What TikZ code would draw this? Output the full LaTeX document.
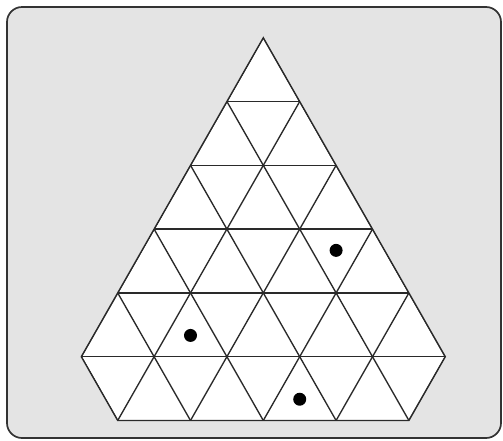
\documentclass[tikz,border=0pt]{standalone}
\usepackage{tikz}
\usetikzlibrary{calc}
\definecolor{panel}{HTML}{E4E4E4}
\definecolor{ink}{HTML}{2A2A2A}
\definecolor{frame}{HTML}{333333}

\begin{document}
\begin{tikzpicture}[x=1pt, y=-1pt, gridline/.style={draw=ink, line width=1.35pt}, stone/.style={circle, fill=black, inner sep=0pt, minimum size=13pt}]
\useasboundingbox (0,0) rectangle (503,440);
\def\s{72.8}
\def\h{63.8}
\draw[fill=panel, draw=frame, line width=1.7pt, rounded corners=15pt] (7,7) rectangle (501,438);
\coordinate (top) at (263.3,37.7);
\coordinate (midL) at ($(top)+(-2.5*\s,5*\h)$);
\coordinate (botL) at ($(top)+(-2*\s,6*\h)$);
\coordinate (botR) at ($(top)+(2*\s,6*\h)$);
\coordinate (midR) at ($(top)+(2.5*\s,5*\h)$);
\fill[white] (top) -- (midL) -- (botL) -- (botR) -- (midR) -- cycle;
\begin{scope}
\clip (top) -- (midL) -- (botL) -- (botR) -- (midR) -- cycle;
\foreach \k in {1,...,5}
  \draw[gridline] ($(top)+(-4*\s,\k*\h)$) -- ++(8*\s,0);
\foreach \j in {-5,...,5} {
  \draw[gridline] ($(top)+(\j*\s,6*\h)$) -- ++(3*\s,-6*\h);
  \draw[gridline] ($(top)+(\j*\s,6*\h)$) -- ++(-3*\s,-6*\h);
}
\end{scope}
\draw[gridline, line join=miter] (top) -- (midL) -- (botL) -- (botR) -- (midR) -- cycle;
\node[stone] (dotA) at ($(top)+(\s,3*\h+\h/3)$) {};
\node[stone] (dotB) at ($(top)+(-\s,4*\h+2*\h/3)$) {};
\node[stone] (dotC) at ($(top)+(0.5*\s,5*\h+2*\h/3)$) {};
\end{tikzpicture}
\end{document}
